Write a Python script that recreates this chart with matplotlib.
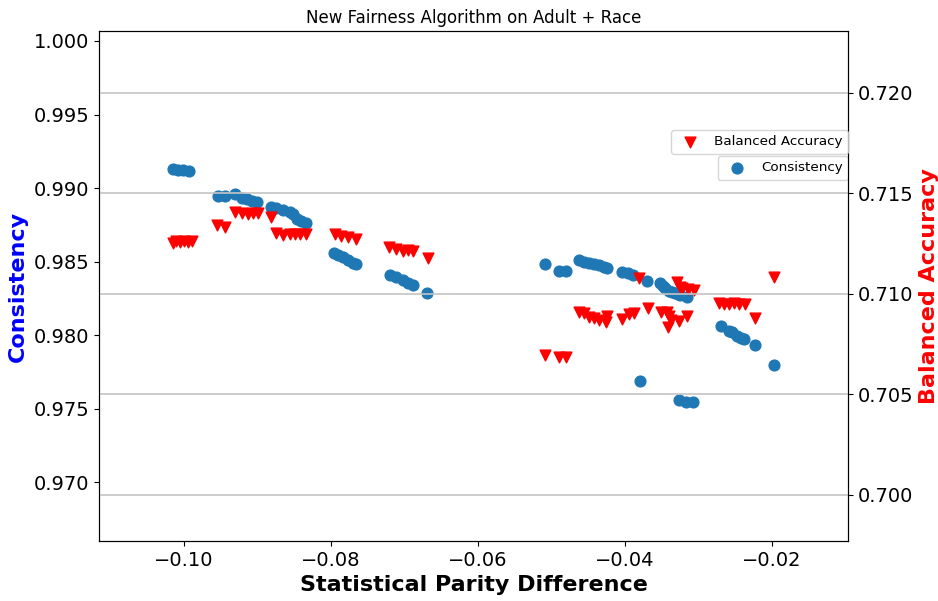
import matplotlib
matplotlib.use("Agg")
import matplotlib.pyplot as plt

# Statistical parity difference for each consistency point
spd_cons = [-0.10148, -0.10072, -0.10004, -0.09923,
            -0.09529, -0.09438, -0.09302, -0.09211, -0.09135, -0.09062, -0.08994,
            -0.08804, -0.08736, -0.08647, -0.08556, -0.08511, -0.08451, -0.08397, -0.08329,
            -0.07959, -0.07900, -0.07833, -0.07765, -0.07697, -0.07651,
            -0.07185, -0.07108, -0.07018, -0.06950, -0.06882,
            -0.06692,
            -0.05085, -0.04891, -0.04800,
            -0.04620, -0.04545, -0.04478, -0.04410, -0.04349, -0.04281, -0.04236,
            -0.04032, -0.03948, -0.03887,
            -0.03783, -0.03693,
            -0.03511, -0.03480, -0.03453, -0.03398, -0.03358, -0.03308, -0.03276, -0.03240, -0.03150,
            -0.03263, -0.03168, -0.03073,
            -0.02683, -0.02584, -0.02543, -0.02471, -0.02413, -0.02380, -0.02222,
            -0.01964]
consistency = [0.99129, 0.99122, 0.99122, 0.99118,
               0.98948, 0.98948, 0.98959, 0.98930, 0.98923, 0.98914, 0.98903,
               0.98873, 0.98862, 0.98850, 0.98837, 0.98821, 0.98789, 0.98776, 0.98760,
               0.98556, 0.98544, 0.98529, 0.98510, 0.98492, 0.98481,
               0.98408, 0.98393, 0.98374, 0.98356, 0.98342,
               0.98284,
               0.98483, 0.98435, 0.98435,
               0.98510, 0.98500, 0.98493, 0.98486, 0.98476, 0.98463, 0.98454,
               0.98431, 0.98420, 0.98408,
               0.97685, 0.98369,
               0.98356, 0.98333, 0.98318, 0.98299, 0.98293, 0.98284, 0.98279, 0.98272, 0.98257,
               0.97558, 0.97546, 0.97546,
               0.98061, 0.98029, 0.98020, 0.97993, 0.97980, 0.97971, 0.97932,
               0.97796]

# Statistical parity difference for each balanced-accuracy point
spd_bacc = [-0.10140, -0.10103, -0.10049, -0.09995, -0.09940, -0.09890,
            -0.09551, -0.09438, -0.09302, -0.09211, -0.09122, -0.09054, -0.08986,
            -0.08804, -0.08736, -0.08647, -0.08556, -0.08488, -0.08420, -0.08329,
            -0.07945, -0.07854, -0.07765, -0.07651,
            -0.07199, -0.07108, -0.07018, -0.06950, -0.06882,
            -0.06679,
            -0.05085, -0.04891, -0.04800,
            -0.04620, -0.04552, -0.04484, -0.04416, -0.04349, -0.04258, -0.04236,
            -0.04032, -0.03941, -0.03873,
            -0.03806, -0.03684,
            -0.03507, -0.03426, -0.03398, -0.03371, -0.03412, -0.03263, -0.03155,
            -0.03290, -0.03250, -0.03222, -0.03141, -0.03060,
            -0.02710, -0.02652, -0.02584, -0.02516, -0.02448, -0.02357,
            -0.02222, -0.01960]
balanced_accuracy = [0.71253, 0.71263, 0.71258, 0.71263, 0.71258, 0.71263,
                     0.71342, 0.71334, 0.71408, 0.71400, 0.71396, 0.71400, 0.71400,
                     0.71384, 0.71301, 0.71293, 0.71298, 0.71296, 0.71298, 0.71298,
                     0.71298, 0.71288, 0.71281, 0.71273,
                     0.71231, 0.71221, 0.71214, 0.71218, 0.71214,
                     0.71177,
                     0.70696, 0.70687, 0.70684,
                     0.70911, 0.70903, 0.70886, 0.70878, 0.70869, 0.70861, 0.70890,
                     0.70875, 0.70900, 0.70904,
                     0.71079, 0.70928,
                     0.70909, 0.70909, 0.70890, 0.70869, 0.70836, 0.70865, 0.70890,
                     0.71060, 0.71035, 0.71029, 0.71022, 0.71019,
                     0.70954, 0.70949, 0.70949, 0.70954, 0.70949, 0.70949,
                     0.70878, 0.71082]

fig = plt.figure(figsize=(9.38, 6.01), dpi=100)
ax = fig.add_axes([99 / 938, 60 / 601, 749 / 938, 510 / 601])
ax2 = ax.twinx()

ax.scatter(spd_cons, consistency, s=60, color="#1f77b4", label="Consistency")
ax2.scatter(spd_bacc, balanced_accuracy, s=60, marker="v", color="red",
            label="Balanced Accuracy")

ax.set_xlim(-0.1115, -0.0096)
ax.set_ylim(0.96599, 1.00068)
ax2.set_ylim(0.69770, 0.72307)
ax.set_xticks([-0.10, -0.08, -0.06, -0.04, -0.02])
ax.set_yticks([0.970, 0.975, 0.980, 0.985, 0.990, 0.995, 1.000])
ax2.set_yticks([0.700, 0.705, 0.710, 0.715, 0.720])
ax.yaxis.set_major_formatter(matplotlib.ticker.FormatStrFormatter("%.3f"))
ax2.yaxis.set_major_formatter(matplotlib.ticker.FormatStrFormatter("%.3f"))
ax.tick_params(labelsize=14)
ax2.tick_params(labelsize=14)

ax2.grid(True, axis="y", color="#c4c4c4", linewidth=1.2)

ax.set_title("New Fairness Algorithm on Adult + Race", fontsize=12)
ax.set_xlabel("Statistical Parity Difference", fontsize=16, fontweight="bold")
ax.set_ylabel("Consistency", fontsize=16, fontweight="bold", color="blue")
ax2.set_ylabel("Balanced Accuracy", fontsize=16, fontweight="bold", color="red")

ax2.legend(loc="upper right", bbox_to_anchor=(1.0, 0.806), fontsize=9.7, borderaxespad=0)
ax.legend(loc="upper right", bbox_to_anchor=(1.0, 0.755), fontsize=9.7, borderaxespad=0)

fig.savefig("out.png", dpi=100)
